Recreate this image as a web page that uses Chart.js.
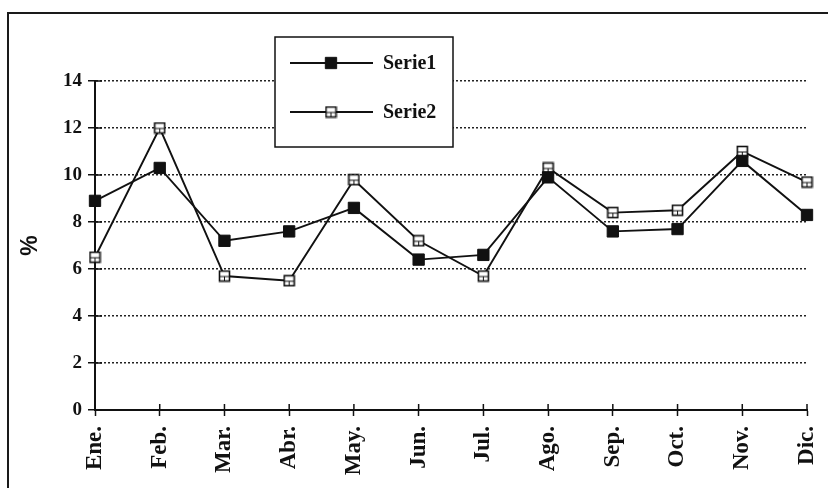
<!DOCTYPE html>
<html>
<head>
<meta charset="utf-8">
<script src="https://cdn.jsdelivr.net/npm/chart.js@4"></script>
<style>
  html, body { margin: 0; padding: 0; background: #fff; overflow: hidden; }
  #wrap { position: relative; width: 828px; height: 488px; overflow: hidden; }
  #frame { position: absolute; left: 7px; top: 12px; width: 840px; height: 500px; border-left: 2px solid #1a1a1a; border-top: 2px solid #1a1a1a; pointer-events: none; }
  canvas { position: absolute; left: 0; top: 0; }
</style>
</head>
<body>
<div id="wrap">
  <canvas id="chart" width="828" height="488"></canvas>
  <div id="frame"></div>
</div>
<script>
const months = ['Ene.', 'Feb.', 'Mar.', 'Abr.', 'May.', 'Jun.', 'Jul.', 'Ago.', 'Sep.', 'Oct.', 'Nov.', 'Dic.'];
const serie1 = [8.9, 10.3, 7.2, 7.6, 8.6, 6.4, 6.6, 9.9, 7.6, 7.7, 10.6, 8.3];
const serie2 = [6.5, 12.0, 5.7, 5.5, 9.8, 7.2, 5.7, 10.3, 8.4, 8.5, 11.0, 9.7];
const seriesNames = ['Serie1', 'Serie2'];
const yMin = 0, yMax = 14, yStep = 2;
const yTitle = '%';

const ink = '#111';
const serif = '"Liberation Serif", "Times New Roman", serif';

// open square marker with the little inner stroke seen in the scan
function hollowSquare() {
  const c = document.createElement('canvas');
  c.width = 13; c.height = 13;
  const g = c.getContext('2d');
  g.fillStyle = '#fff';
  g.fillRect(1, 1, 11, 11);
  g.strokeStyle = ink;
  g.lineWidth = 1.6;
  g.strokeRect(1.5, 1.5, 10, 10);
  g.lineWidth = 1;
  g.beginPath();
  g.moveTo(2, 7); g.lineTo(11, 7);
  g.moveTo(6.5, 7); g.lineTo(6.5, 11);
  g.stroke();
  return c;
}
const openMark = hollowSquare();

// small tick stubs inside the plot so ticks cross the axes
const tickCross = {
  id: 'tickCross',
  afterDatasetsDraw(chart) {
    const { ctx, scales: { x, y } } = chart;
    ctx.save();
    ctx.strokeStyle = ink;
    ctx.lineWidth = 1.5;
    ctx.beginPath();
    y.ticks.forEach(t => {
      const py = y.getPixelForValue(t.value);
      ctx.moveTo(x.left, py);
      ctx.lineTo(x.left + 7, py);
    });
    x.ticks.forEach((t, i) => {
      const px = x.getPixelForTick(i);
      ctx.moveTo(px, y.bottom);
      ctx.lineTo(px, y.bottom - 6);
    });
    ctx.stroke();
    ctx.restore();
  }
};

// boxed legend sitting inside the plot area
const boxLegend = {
  id: 'boxLegend',
  afterDraw(chart) {
    const ctx = chart.ctx;
    const L = 275, T = 37, W = 178, H = 110;
    const rows = [26, 75];
    ctx.save();
    ctx.fillStyle = '#fff';
    ctx.fillRect(L, T, W, H);
    ctx.strokeStyle = ink;
    ctx.lineWidth = 1.5;
    ctx.strokeRect(L, T, W, H);
    chart.data.datasets.forEach((ds, i) => {
      const yy = T + rows[i];
      ctx.strokeStyle = ds.borderColor;
      ctx.lineWidth = ds.borderWidth;
      ctx.beginPath();
      ctx.moveTo(L + 15, yy);
      ctx.lineTo(L + 98, yy);
      ctx.stroke();
      ctx.fillStyle = ds.pointBackgroundColor;
      ctx.strokeStyle = ds.pointBorderColor;
      ctx.lineWidth = 1;
      Chart.helpers.drawPoint(ctx, { pointStyle: ds.pointStyle, radius: ds.pointRadius, rotation: 0, borderWidth: 1 }, L + 56, yy);
      ctx.fillStyle = ink;
      ctx.font = 'bold 20px ' + serif;
      ctx.textBaseline = 'middle';
      ctx.fillText(ds.label, L + 108, yy + 1);
    });
    ctx.restore();
  }
};

new Chart(document.getElementById('chart'), {
  type: 'line',
  data: {
    labels: months,
    datasets: [
      { label: seriesNames[0], data: serie1, borderColor: ink, borderWidth: 1.9, pointStyle: 'rect', pointRadius: 8, pointBackgroundColor: ink, pointBorderColor: ink, pointBorderWidth: 1, tension: 0 },
      { label: seriesNames[1], data: serie2, borderColor: ink, borderWidth: 1.9, pointStyle: openMark, pointRadius: 7, pointBackgroundColor: '#fff', pointBorderColor: ink, pointBorderWidth: 1, tension: 0 }
    ]
  },
  options: {
    responsive: false,
    animation: false,
    layout: { padding: { top: 81, right: 21, left: 0, bottom: 0 } },
    plugins: { legend: { display: false }, tooltip: { enabled: false } },
    scales: {
      x: {
        offset: false,
        grid: { drawOnChartArea: false, tickLength: 6, tickColor: ink, tickWidth: 1.5 },
        border: { color: ink, width: 2 },
        ticks: { maxRotation: 90, minRotation: 90, padding: 10, color: ink, font: { family: serif, weight: 'bold', size: 23 } },
        afterFit(s) { s.height = 78; s.paddingLeft = 0; s.paddingRight = 0; }
      },
      y: {
        min: yMin,
        max: yMax,
        ticks: { stepSize: yStep, padding: 6, color: ink, font: { family: serif, weight: 'bold', size: 19 } },
        grid: { color: '#222', lineWidth: 1.5, tickLength: 7, tickColor: ink, tickWidth: 1.5 },
        border: { color: ink, width: 2, dash: [2, 2] },
        title: { display: true, text: yTitle, color: ink, padding: { top: 17, bottom: 0 }, font: { family: '"Liberation Sans", Arial, sans-serif', weight: 'bold', size: 23 } },
        afterFit(s) { s.width = 95; }
      }
    }
  },
  plugins: [tickCross, boxLegend]
});
</script>
</body>
</html>
